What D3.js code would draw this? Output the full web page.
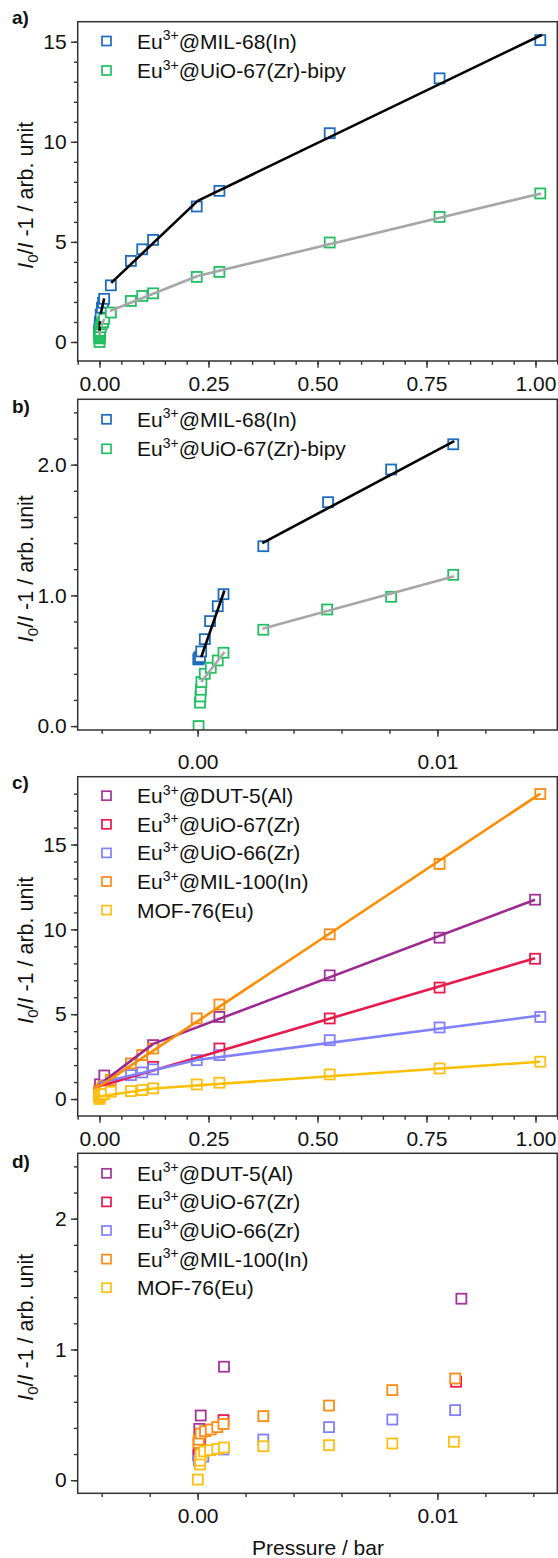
<!DOCTYPE html>
<html>
<head>
<meta charset="utf-8">
<script src="https://cdn.jsdelivr.net/npm/d3@7"></script>
<style>
  body { margin: 0; background: #fff; }
  svg { display: block; font-family: "Liberation Sans", Arial, sans-serif; }
  .axis line { stroke: #333; stroke-width: 1.4; }
  .axis path { display: none; }
  .axis text { font-size: 21px; fill: #111; font-family: "Liberation Sans", Arial, sans-serif; }
</style>
</head>
<body>
<script>
// pressure (bar) and I0/I - 1

// Eu3+@MIL-68(In)
const mil68P = [0.00003, 0.00005, 0.0001, 0.00015, 0.0003, 0.00052, 0.00084, 0.00108, 0.00274, 0.00544, 0.00807, 0.01066,
                0.026, 0.072, 0.098, 0.123, 0.223, 0.275, 0.528, 0.780, 1.011];
const mil68V = [0.51, 0.52, 0.528, 0.571, 0.665, 0.803, 0.917, 1.009, 1.376, 1.713, 1.963, 2.156,
                2.83, 4.05, 4.63, 5.10, 6.77, 7.55, 10.43, 13.17, 15.08];
// Eu3+@UiO-67(Zr)-bipy
const bipyP = [0.00004, 0.0001, 0.00012, 0.00014, 0.00016, 0.0003, 0.00055, 0.00084, 0.00108, 0.00274, 0.0054, 0.00807, 0.01066,
               0.026, 0.072, 0.098, 0.123, 0.223, 0.275, 0.528, 0.780, 1.011];
const bipyV = [0.0, 0.179, 0.227, 0.278, 0.337, 0.40, 0.446, 0.502, 0.561, 0.737, 0.892, 0.989, 1.157,
               1.47, 2.05, 2.30, 2.43, 3.25, 3.50, 4.97, 6.25, 7.42];

// Eu3+@DUT-5(Al)
const dut5P = [0.00003, 0.00006, 0.00007, 0.00013, 0.0011, 0.011, 0.123, 0.275, 0.528, 0.780, 0.999];
const dut5V = [0.19, 0.31, 0.393, 0.495, 0.868, 1.388, 3.18, 4.84, 7.29, 9.51, 11.75];
// Eu3+@UiO-67(Zr)
const uio67P = [0.00005, 0.0001, 0.00108, 0.01078, 0.123, 0.275, 0.528, 0.780, 0.999];
const uio67V = [0.20, 0.30, 0.46, 0.753, 1.90, 2.98, 4.75, 6.57, 8.27];
// Eu3+@UiO-66(Zr)
const uio66P = [0.00005, 0.00024, 0.00108, 0.00274, 0.00548, 0.00812, 0.01074,
                0.072, 0.098, 0.123, 0.223, 0.275, 0.528, 0.780, 1.011];
const uio66V = [0.15, 0.18, 0.235, 0.311, 0.406, 0.464, 0.536,
                1.41, 1.57, 1.75, 2.29, 2.59, 3.47, 4.22, 4.84];
// Eu3+@MIL-100(In)
const mil100P = [0.00003, 0.00005, 0.00013, 0.00031, 0.00055, 0.00082, 0.00108, 0.00274, 0.00548, 0.00812, 0.01074,
                 0.026, 0.072, 0.098, 0.123, 0.223, 0.275, 0.528, 0.780, 1.011];
const mil100V = [0.286, 0.31, 0.357, 0.375, 0.388, 0.406, 0.43, 0.49, 0.571, 0.689, 0.778,
                 1.12, 2.10, 2.59, 2.98, 4.75, 5.57, 9.71, 13.86, 17.98];
// MOF-76(Eu)
const mof76P = [0.00001, 0.0001, 0.00011, 0.00013, 0.00027, 0.00052, 0.00082, 0.0011, 0.00274, 0.00548, 0.00812, 0.01069,
                0.026, 0.072, 0.098, 0.123, 0.223, 0.275, 0.528, 0.780, 1.011];
const mof76V = [0.005, 0.12, 0.15, 0.197, 0.22, 0.23, 0.24, 0.25, 0.26, 0.268, 0.281, 0.294,
                0.43, 0.47, 0.53, 0.63, 0.86, 0.96, 1.45, 1.80, 2.20];

// linear fits, [p0, v0, p1, v1]
const mil68Fit = [[0.00015, 0.528, 0.00112, 1.037], [0.0027, 1.40, 0.0107, 2.18],
                  [0.027, 2.95, 0.225, 7.05], [0.225, 7.05, 1.015, 15.35]];
const bipyFit = [[0.00015, 0.337, 0.00112, 0.567], [0.0027, 0.744, 0.0107, 1.147],
                 [0.024, 1.55, 0.225, 3.30], [0.225, 3.30, 1.013, 7.42]];
const dut5Fit = [[0.0, 0.85, 0.123, 3.25], [0.123, 3.25, 0.999, 11.75]];
const uio67Fit = [[0.0, 0.75, 0.999, 8.30]];
const uio66Fit = [[0.0, 0.95, 0.223, 2.30], [0.223, 2.30, 1.011, 4.92]];
const mil100Fit = [[0.0, 0.75, 1.011, 18.0]];
const mof76Fit = [[0.0, 0.15, 0.123, 0.62], [0.123, 0.62, 1.011, 2.20]];

// tick labels
const xTicksWide = [0, 0.25, 0.5, 0.75, 1.0];
const xTicksNarrow = [0, 0.01];
const yTicksBig = [0, 5, 10, 15];
const yTicksSmall = [0, 1, 2];

const groupAB = [
  { pre: 'Eu', sup: '3+', post: '@MIL-68(In)', p: mil68P, v: mil68V, fit: mil68Fit, color: '#1d6cbe', lineColor: '#000000' },
  { pre: 'Eu', sup: '3+', post: '@UiO-67(Zr)-bipy', p: bipyP, v: bipyV, fit: bipyFit, color: '#21bf62', lineColor: '#a6a6a6' }
];
const groupCD = [
  { pre: 'Eu', sup: '3+', post: '@DUT-5(Al)', p: dut5P, v: dut5V, fit: dut5Fit, color: '#a3349a', lineColor: '#9c2a90' },
  { pre: 'Eu', sup: '3+', post: '@UiO-67(Zr)', p: uio67P, v: uio67V, fit: uio67Fit, color: '#e8194b', lineColor: '#e8194b' },
  { pre: 'Eu', sup: '3+', post: '@UiO-66(Zr)', p: uio66P, v: uio66V, fit: uio66Fit, color: '#7f7fff', lineColor: '#7f7fff' },
  { pre: 'Eu', sup: '3+', post: '@MIL-100(In)', p: mil100P, v: mil100V, fit: mil100Fit, color: '#ff8a14', lineColor: '#ff8c00' },
  { pre: 'MOF-76(Eu)', sup: '', post: '', p: mof76P, v: mof76V, fit: mof76Fit, color: '#ffbf10', lineColor: '#ffbf00' }
];

const svg = d3.select('body')
  .append('svg')
  .attr('width', 558)
  .attr('height', 1558);

const left = 77.7;
const right = 557.3;

function steps(a, b, s) {
  const out = [];
  for (let i = 0; a + i * s <= b + 1e-9; i++) out.push(+(a + i * s).toFixed(6));
  return out;
}

const panels = [
  { id: 'a', letter: 'a)', top: 21.7, bottom: 361, xDomain: [-0.05, 1.05], yDomain: [-0.95, 16],
    xTicks: xTicksWide, xMinor: steps(-0.05, 1.05, 0.05), xFmt: d3.format('.2f'), xPad: 8.3,
    yTicks: yTicksBig, yMinor: steps(0, 15, 1), yFmt: d3.format('d'),
    series: groupAB, lines: true, legendY: 41, letterY: 24 },
  { id: 'b', letter: 'b)', top: 399.3, bottom: 730, xDomain: [-0.005, 0.015], yDomain: [-0.03, 2.5],
    xTicks: xTicksNarrow, xMinor: steps(-0.004, 0.014, 0.002), xFmt: d3.format('.2f'), xPad: 17.5,
    yTicks: yTicksSmall, yMinor: steps(0, 2.4, 0.2), yFmt: d3.format('.1f'),
    series: groupAB, lines: true, legendY: 419.3, letterY: 413 },
  { id: 'c', letter: 'c)', top: 776.7, bottom: 1116, xDomain: [-0.05, 1.05], yDomain: [-1, 19],
    xTicks: xTicksWide, xMinor: steps(-0.05, 1.05, 0.05), xFmt: d3.format('.2f'), xPad: 8.3,
    yTicks: yTicksBig, yMinor: steps(0, 18, 1), yFmt: d3.format('d'),
    series: groupCD, lines: true, legendY: 795.7, letterY: 789 },
  { id: 'd', letter: 'd)', top: 1153.3, bottom: 1493.3, xDomain: [-0.005, 0.015], yDomain: [-0.1, 2.5],
    xTicks: xTicksNarrow, xMinor: steps(-0.004, 0.014, 0.002), xFmt: d3.format('.2f'), xPad: 7.5,
    yTicks: yTicksSmall, yMinor: steps(0, 2.4, 0.2), yFmt: d3.format('d'),
    series: groupCD, lines: false, legendY: 1173.3, letterY: 1168 }
];

panels.forEach(drawPanel);

svg.append('text')
  .text('Pressure / bar')
  .attr('x', 318)
  .attr('y', 1555)
  .attr('text-anchor', 'middle')
  .style('font-size', '21px')
  .style('fill', '#111');

function drawPanel(cfg) {

  const x = d3.scaleLinear().domain(cfg.xDomain).range([left, right]);
  const y = d3.scaleLinear().domain(cfg.yDomain).range([cfg.bottom, cfg.top]);

  svg.append('clipPath')
    .attr('id', 'clip-' + cfg.id)
    .append('rect')
    .attr('x', left)
    .attr('y', cfg.top)
    .attr('width', right - left)
    .attr('height', cfg.bottom - cfg.top);

  const g = svg.append('g');
  const plot = g.append('g').attr('clip-path', `url(#clip-${cfg.id})`);

  // markers
  cfg.series.forEach(s => {
    plot.selectAll(null)
      .data(d3.zip(s.p, s.v))
      .enter()
      .append('rect')
      .attr('x', d => x(d[0]) - 5)
      .attr('y', d => y(d[1]) - 5)
      .attr('width', 10)
      .attr('height', 10)
      .attr('fill', '#fff')
      .attr('stroke', s.color)
      .attr('stroke-width', 1.8);
  });

  // fit lines on top
  if (cfg.lines) {
    cfg.series.forEach(s => {
      plot.selectAll(null)
        .data(s.fit)
        .enter()
        .append('line')
        .attr('x1', d => x(d[0]))
        .attr('y1', d => y(d[1]))
        .attr('x2', d => x(d[2]))
        .attr('y2', d => y(d[3]))
        .attr('stroke', s.lineColor)
        .attr('stroke-width', 2.6);
    });
  }

  // axes: minor then major
  g.append('g')
    .attr('class', 'axis')
    .attr('transform', `translate(0, ${cfg.bottom})`)
    .call(d3.axisBottom(x).tickValues(cfg.xMinor).tickSize(3.8).tickFormat(''));
  g.append('g')
    .attr('class', 'axis')
    .attr('transform', `translate(0, ${cfg.bottom})`)
    .call(d3.axisBottom(x).tickValues(cfg.xTicks).tickSize(6.8).tickPadding(cfg.xPad).tickFormat(cfg.xFmt));

  g.append('g')
    .attr('class', 'axis')
    .attr('transform', `translate(${left}, 0)`)
    .call(d3.axisLeft(y).tickValues(cfg.yMinor).tickSize(3.8).tickFormat(''));
  g.append('g')
    .attr('class', 'axis')
    .attr('transform', `translate(${left}, 0)`)
    .call(d3.axisLeft(y).tickValues(cfg.yTicks).tickSize(6.8).tickPadding(4.3).tickFormat(cfg.yFmt));

  // frame
  g.append('rect')
    .attr('x', left)
    .attr('y', cfg.top)
    .attr('width', right - left)
    .attr('height', cfg.bottom - cfg.top)
    .attr('fill', 'none')
    .attr('stroke', '#333')
    .attr('stroke-width', 1.5);

  // legend
  const leg = g.append('g');
  cfg.series.forEach((s, i) => {
    const ly = cfg.legendY + i * (cfg.series.length > 2 ? 28.6 : 29.5);
    leg.append('rect')
      .attr('x', 106.5 - 4.5)
      .attr('y', ly - 4.5)
      .attr('width', 9)
      .attr('height', 9)
      .attr('fill', '#fff')
      .attr('stroke', s.color)
      .attr('stroke-width', 1.7);
    const t = leg.append('text')
      .attr('x', 137)
      .attr('y', ly + 7.5)
      .style('font-size', '21px')
      .style('fill', '#111');
    t.append('tspan').text(s.pre);
    if (s.sup) {
      t.append('tspan').text(s.sup).attr('dy', -8.5).style('font-size', '14px');
      t.append('tspan').text(s.post).attr('dy', 8.5);
    }
  });

  // y label
  const cy = (cfg.top + cfg.bottom) / 2 + 4;
  const yl = g.append('text')
    .attr('transform', `translate(33, ${cy}) rotate(-90)`)
    .attr('text-anchor', 'middle')
    .style('font-size', '21.5px')
    .style('fill', '#111');
  yl.append('tspan').text('I').style('font-style', 'italic');
  yl.append('tspan').text('0').attr('dy', 5).style('font-size', '15px');
  yl.append('tspan').text('/').attr('dy', -5);
  yl.append('tspan').text('I').style('font-style', 'italic');
  yl.append('tspan').text(' -1 / arb. unit');

  // panel letter
  svg.append('text')
    .text(cfg.letter)
    .attr('x', 12)
    .attr('y', cfg.letterY)
    .style('font-size', '19px')
    .style('font-weight', 'bold')
    .style('fill', '#111');
}
</script>
</body>
</html>
